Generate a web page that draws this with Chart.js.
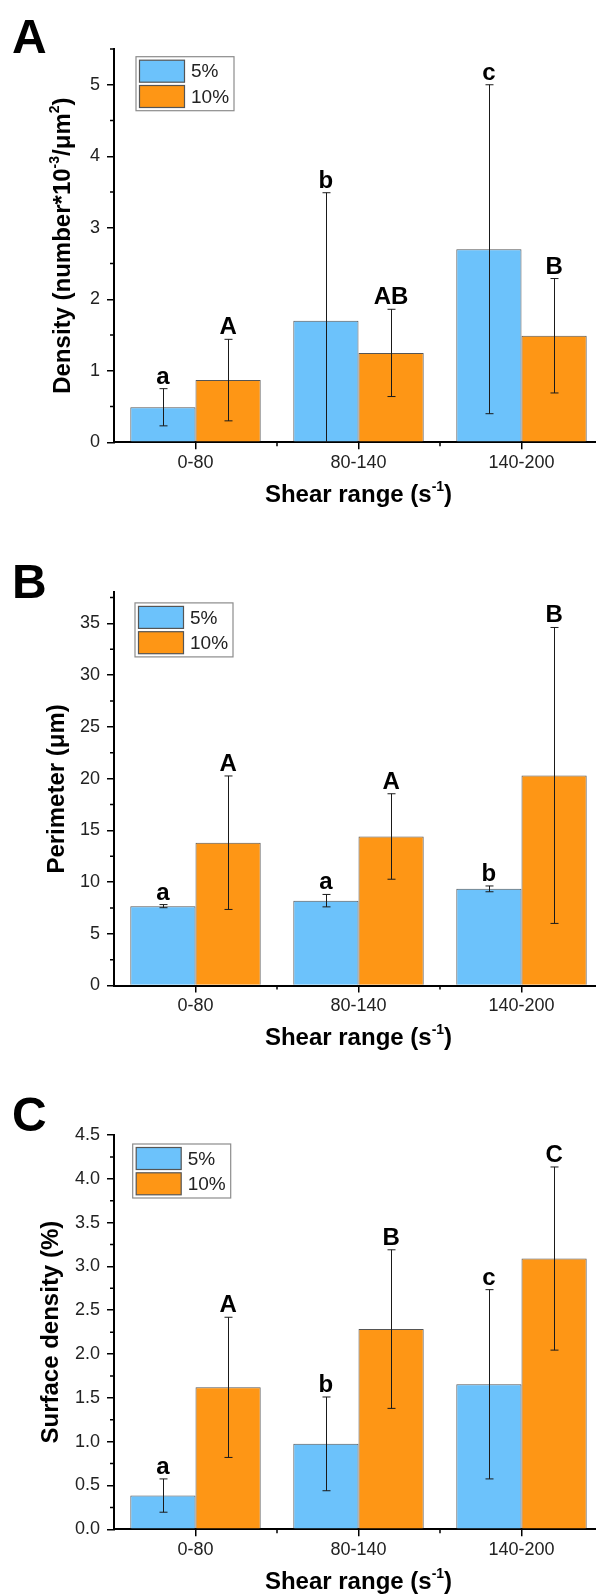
<!DOCTYPE html>
<html>
<head>
<meta charset="utf-8">
<title>Shear range bar charts</title>
<script src="https://cdn.jsdelivr.net/npm/chart.js@4.4.0/dist/chart.umd.min.js"></script>
<style>
    html, body { margin: 0; padding: 0; background: #fff; }
    body { width: 596px; height: 1595px; overflow: hidden; position: relative; }
    canvas { position: absolute; left: 0; }
</style>
</head>
<body>
<canvas id="densityChart" width="610" height="560" style="top:0px"></canvas>
<canvas id="perimeterChart" width="610" height="560" style="top:520px"></canvas>
<canvas id="surfaceChart" width="610" height="550" style="top:1045px"></canvas>
<script>
// shared categories / series
const categories = ['0-80', '80-140', '140-200'];
const seriesLabels = ['5%', '10%'];

// A - density
const densityFive = [0.49, 1.70, 2.70];
const densityFiveErr = [0.26, 1.79, 2.30];
const densityTen = [0.87, 1.25, 1.49];
const densityTenErr = [0.57, 0.61, 0.80];
const densityFiveLetters = ['a', 'b', 'c'];
const densityTenLetters = ['A', 'AB', 'B'];

// B - perimeter
const perimeterFive = [7.67, 8.20, 9.34];
const perimeterFiveErr = [0.15, 0.60, 0.28];
const perimeterTen = [13.8, 14.4, 20.3];
const perimeterTenErr = [6.45, 4.13, 14.3];
const perimeterFiveLetters = ['a', 'a', 'b'];
const perimeterTenLetters = ['A', 'A', 'B'];

// C - surface density
const surfaceFive = [0.385, 0.975, 1.655];
const surfaceFiveErr = [0.19, 0.535, 1.08];
const surfaceTen = [1.62, 2.285, 3.09];
const surfaceTenErr = [0.80, 0.905, 1.045];
const surfaceFiveLetters = ['a', 'b', 'c'];
const surfaceTenLetters = ['A', 'B', 'C'];

const FONT = 'Arial, "Liberation Sans", Helvetica, sans-serif';
const BLUE = '#6cc2fb';
const ORANGE = '#fe9615';
const EDGE = '#555';

// draws text with superscript parts, centred on (0,0)
function drawRich(ctx, parts, size) {
    const base = `bold ${size}px ${FONT}`;
    const sup = `bold ${Math.round(size * 0.6)}px ${FONT}`;
    const widths = parts.map(p => { ctx.font = p.sup ? sup : base; return ctx.measureText(p.t).width; });
    let x = -widths.reduce((a, b) => a + b, 0) / 2;
    ctx.textAlign = 'left';
    ctx.textBaseline = 'middle';
    parts.forEach((p, i) => {
        ctx.font = p.sup ? sup : base;
        ctx.fillText(p.t, x, p.sup ? -size * 0.36 : 0);
        x += widths[i];
    });
}

function decorPlugin(cfg) {
    return {
        id: 'panelDecor',
        afterDraw(chart) {
            const ctx = chart.ctx;
            const area = chart.chartArea;
            const xs = chart.scales.x;
            const ys = chart.scales.y;
            ctx.save();

            // minor ticks
            ctx.strokeStyle = '#000';
            ctx.lineWidth = 1.5;
            ctx.beginPath();
            for (let v = cfg.minor; v <= cfg.max + 1e-9; v += cfg.minor) {
                const k = v / cfg.step;
                if (Math.abs(k - Math.round(k)) < 1e-6) continue;
                const py = ys.getPixelForValue(v);
                ctx.moveTo(area.left - 4, py);
                ctx.lineTo(area.left, py);
            }
            for (let i = 0; i < categories.length - 1; i++) {
                const px = (xs.getPixelForValue(i) + xs.getPixelForValue(i + 1)) / 2;
                ctx.moveTo(px, area.bottom);
                ctx.lineTo(px, area.bottom + 4);
            }
            ctx.stroke();

            // error bars + significance letters
            chart.data.datasets.forEach((ds, di) => {
                chart.getDatasetMeta(di).data.forEach((bar, i) => {
                    const v = ds.data[i], e = ds.errors[i];
                    const bx = Math.round(bar.x) + 0.5;
                    const yTop = ys.getPixelForValue(v + e);
                    const yBot = ys.getPixelForValue(v - e);
                    ctx.strokeStyle = '#1a1a1a';
                    ctx.lineWidth = 1;
                    ctx.beginPath();
                    ctx.moveTo(bx, yTop);
                    ctx.lineTo(bx, Math.min(yBot, area.bottom));
                    ctx.moveTo(bx - 4, yTop);
                    ctx.lineTo(bx + 4, yTop);
                    if (yBot < area.bottom) {
                        ctx.moveTo(bx - 4, yBot);
                        ctx.lineTo(bx + 4, yBot);
                    }
                    ctx.stroke();
                    ctx.fillStyle = '#000';
                    ctx.font = `bold 24px ${FONT}`;
                    ctx.textAlign = 'center';
                    ctx.textBaseline = 'alphabetic';
                    ctx.fillText(ds.letters[i], bar.x, yTop - 5);
                });
            });

            // legend box
            const lx = area.left + cfg.legendDx, ly = area.top + cfg.legendDy;
            ctx.fillStyle = '#fff';
            ctx.fillRect(lx, ly, 98, 54);
            ctx.strokeStyle = '#8c8c8c';
            ctx.lineWidth = 1.2;
            ctx.strokeRect(lx, ly, 98, 54);
            chart.data.datasets.forEach((ds, i) => {
                const sy = ly + 3.5 + i * 25.3;
                ctx.fillStyle = ds.backgroundColor;
                ctx.fillRect(lx + 3.5, sy, 45, 22);
                ctx.strokeStyle = EDGE;
                ctx.lineWidth = 1.2;
                ctx.strokeRect(lx + 3.5, sy, 45, 22);
                ctx.fillStyle = '#222';
                ctx.font = `19px ${FONT}`;
                ctx.textAlign = 'left';
                ctx.textBaseline = 'middle';
                ctx.fillText(ds.label, lx + 55, sy + 12);
            });

            // axis titles
            ctx.fillStyle = '#000';
            ctx.save();
            ctx.translate((area.left + area.right) / 2, area.bottom + 53);
            drawRich(ctx, [{ t: 'Shear range (s' }, { t: '-1', sup: true }, { t: ')' }], 24);
            ctx.restore();
            ctx.save();
            ctx.translate(cfg.yTitleX, (area.top + area.bottom) / 2);
            ctx.rotate(-Math.PI / 2);
            drawRich(ctx, cfg.yTitle, 24);
            ctx.restore();

            // panel letter
            ctx.font = `bold 48px ${FONT}`;
            ctx.textAlign = 'left';
            ctx.textBaseline = 'alphabetic';
            ctx.fillText(cfg.panel, 12, cfg.panelY);
            ctx.restore();
        }
    };
}

function makePanel(id, cfg) {
    const canvas = document.getElementById(id);
    return new Chart(canvas, {
        type: 'bar',
        data: {
            labels: categories,
            datasets: [
                { label: seriesLabels[0], data: cfg.five, errors: cfg.fiveErr, letters: cfg.fiveLetters,
                  backgroundColor: BLUE, borderColor: EDGE, borderWidth: 1,
                  categoryPercentage: 0.8, barPercentage: 1.0 },
                { label: seriesLabels[1], data: cfg.ten, errors: cfg.tenErr, letters: cfg.tenLetters,
                  backgroundColor: ORANGE, borderColor: EDGE, borderWidth: 1,
                  categoryPercentage: 0.8, barPercentage: 1.0 }
            ]
        },
        options: {
            responsive: false,
            animation: false,
            layout: { padding: { top: cfg.areaTop, right: 7, left: 0, bottom: 0 } },
            plugins: { legend: { display: false }, tooltip: { enabled: false } },
            scales: {
                x: {
                    z: 1,
                    offset: true,
                    grid: { display: true, drawOnChartArea: false, drawTicks: true, tickLength: 7, offset: false, color: '#000', lineWidth: 1.5 },
                    border: { display: true, color: '#000', width: 2 },
                    ticks: { color: '#222', font: { family: FONT, size: 18 }, padding: 3, maxRotation: 0 },
                    afterFit: s => { s.height = canvas.height - cfg.areaBottom; }
                },
                y: {
                    z: 1,
                    min: 0,
                    max: cfg.max,
                    grid: { display: true, drawOnChartArea: false, drawTicks: true, tickLength: 7, color: '#000', lineWidth: 1.5 },
                    border: { display: true, color: '#000', width: 2 },
                    ticks: {
                        stepSize: cfg.step,
                        includeBounds: false,
                        color: '#222',
                        font: { family: FONT, size: 18 },
                        padding: 7,
                        callback: v => v.toFixed(cfg.decimals)
                    },
                    afterFit: s => { s.width = 114; }
                }
            }
        },
        plugins: [decorPlugin(cfg)]
    });
}

makePanel('densityChart', {
    five: densityFive, fiveErr: densityFiveErr, fiveLetters: densityFiveLetters,
    ten: densityTen, tenErr: densityTenErr, tenLetters: densityTenLetters,
    max: 5.5, step: 1, minor: 0.5, decimals: 0,
    areaTop: 49, areaBottom: 442.3,
    legendDx: 22, legendDy: 7.7, yTitleX: 63.6, panel: 'A', panelY: 53,
    yTitle: [{ t: 'Density (number*10' }, { t: '-3', sup: true }, { t: '/\u03bcm' }, { t: '2', sup: true }, { t: ')' }]
});

makePanel('perimeterChart', {
    five: perimeterFive, fiveErr: perimeterFiveErr, fiveLetters: perimeterFiveLetters,
    ten: perimeterTen, tenErr: perimeterTenErr, tenLetters: perimeterTenLetters,
    max: 38, step: 5, minor: 2.5, decimals: 0,
    areaTop: 72.3, areaBottom: 465.5,
    legendDx: 21, legendDy: 10.6, yTitleX: 57.4, panel: 'B', panelY: 78,
    yTitle: [{ t: 'Perimeter (\u03bcm)' }]
});

makePanel('surfaceChart', {
    five: surfaceFive, fiveErr: surfaceFiveErr, fiveLetters: surfaceFiveLetters,
    ten: surfaceTen, tenErr: surfaceTenErr, tenLetters: surfaceTenLetters,
    max: 4.5, step: 0.5, minor: 0.25, decimals: 1,
    areaTop: 90, areaBottom: 484.3,
    legendDx: 18.7, legendDy: 9, yTitleX: 51.3, panel: 'C', panelY: 86,
    yTitle: [{ t: 'Surface density (%)' }]
});
</script>
</body>
</html>
